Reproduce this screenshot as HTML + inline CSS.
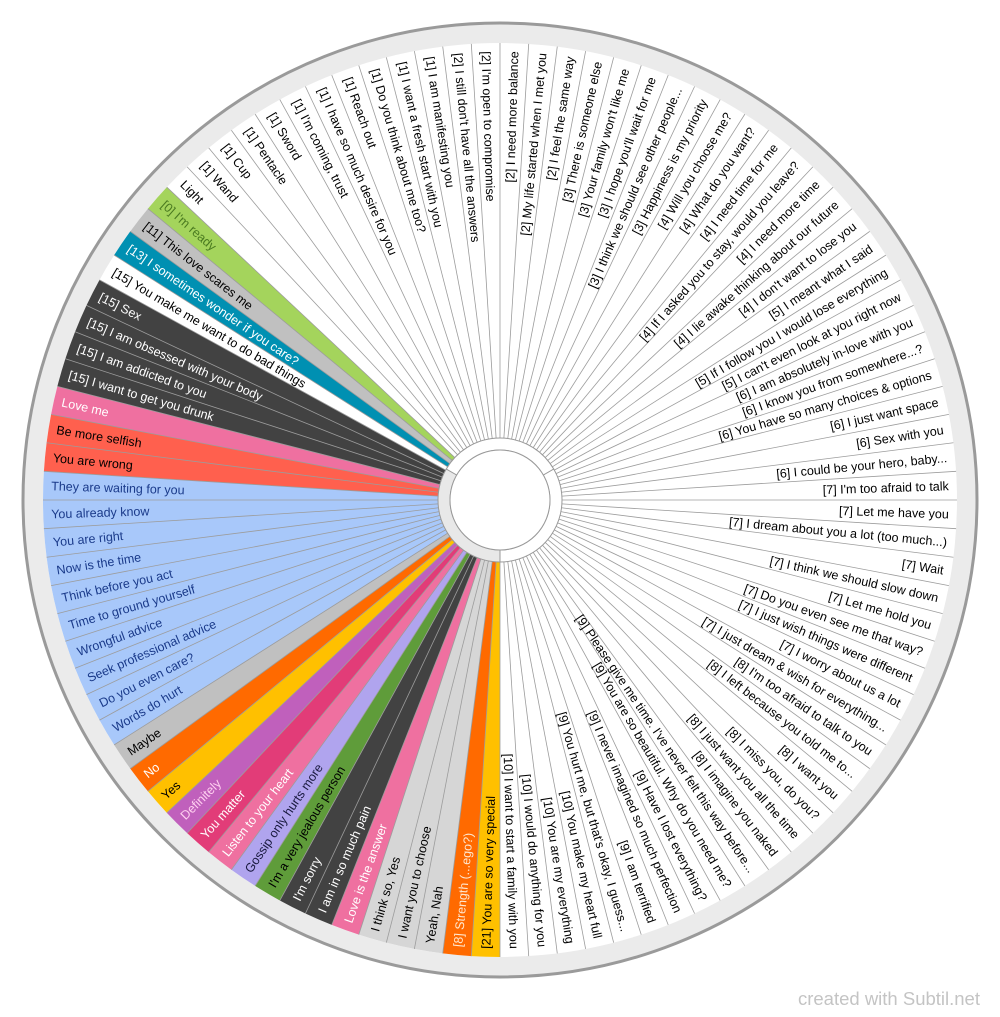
<!DOCTYPE html>
<html><head><meta charset="utf-8"><style>
html,body{margin:0;padding:0;background:#fff;width:1000px;height:1017px;overflow:hidden}
svg{display:block}
text{font-family:"Liberation Sans",Arial,sans-serif;font-size:12.5px}
</style></head><body>
<svg id="s" width="1000" height="1017" viewBox="0 0 1000 1017">
<circle cx="500" cy="501" r="477" fill="#e6e6e6" opacity="0.6"/>
<circle cx="500" cy="500" r="467" fill="none" stroke="#ebebeb" stroke-width="21"/>
<circle cx="500" cy="500" r="477" fill="none" stroke="#9a9a9a" stroke-width="3"/>
<circle cx="500" cy="500" r="457" fill="#fff"/>
<g id="g" transform="translate(500,500)"></g>
<text x="980" y="1005" text-anchor="end" style="font-size:18.5px" fill="#c4c4c4">created with Subtil.net</text>
</svg>
<script>
var W='#fff',B='#000';
var right=["[2] I need more balance","[2] My life started when I met you","[2] I feel the same way","[3] There is someone else","[3] Your family won't like me","[3] I hope you'll wait for me","[3] I think we should see other people...","[3] Happiness is my priority","[4] Will you choose me?","[4] What do you want?","[4] I need time for me","[4] If I asked you to stay, would you leave?","[4] I need more time","[4] I lie awake thinking about our future","[4] I don't want to lose you","[5] I meant what I said","[5] If I follow you I would lose everything","[5] I can't even look at you right now","[6] I am absolutely in-love with you","[6] I know you from somewhere...?","[6] You have so many choices & options","[6] I just want space","[6] Sex with you","[6] I could be your hero, baby...","[7] I'm too afraid to talk","[7] Let me have you","[7] I dream about you a lot (too much...)","[7] Wait","[7] I think we should slow down","[7] Let me hold you","[7] Do you even see me that way?","[7] I just wish things were different","[7] I worry about us a lot","[7] I just dream & wish for everything...","[8] I'm too afraid to talk to you","[8] I left because you told me to...","[8] I want you","[8] I miss you, do you?","[8] I just want you all the time","[8] I imagine you naked","[9] Please give me time. I've never felt this way before...","[9] You are so beautiful. Why do you need me?","[9] Have I lost everything?","[9] I never imagined so much perfection","[9] I am terrified","[9] You hurt me, but that's okay, I guess...","[10] You make my heart full","[10] You are my everything","[10] I would do anything for you","[10] I want to start a family with you"];
var DG='#424242',BL='#a8c8fa',BT='#1a3a8a',PK='#ef70a0',LG='#d6d6d6';
var left=[["[21] You are so very special","#ffc000",B],["[8] Strength (...ego?)","#ff6a00","#ffe8d0"],["Yeah, Nah",LG,B],["I want you to choose",LG,B],["I think so, Yes",LG,B],["Love is the answer",PK,W],["I am in so much pain",DG,W],["I'm sorry",DG,W],["I'm a very jealous person","#5f9c3a",B],["Gossip only hurts more","#b0a4ee","#1a1a40"],["Listen to your heart",PK,W],["You matter","#e23c78",W],["Definitely","#c060bc","#ffd0f0"],["Yes","#ffc000",B],["No","#ff6a00",W],["Maybe","#c0c0c0",B],["Words do hurt",BL,BT],["Do you even care?",BL,BT],["Seek professional advice",BL,BT],["Wrongful advice",BL,BT],["Time to ground yourself",BL,BT],["Think before you act",BL,BT],["Now is the time",BL,BT],["You are right",BL,BT],["You already know",BL,BT],["They are waiting for you",BL,BT],["You are wrong","#ff604e",B],["Be more selfish","#ff604e",B],["Love me",PK,W],["[15] I want to get you drunk",DG,W],["[15] I am addicted to you",DG,W],["[15] I am obsessed with your body",DG,W],["[15] Sex",DG,W],["[15] You make me want to do bad things",W,B],["[13] I sometimes wonder if you care?","#0090b2",W],["[11] This love scares me","#c0c0c0",B],["[0] I'm ready","#a4d45c","#4a7a20"],["Light",W,B],["[1] Wand",W,B],["[1] Cup",W,B],["[1] Pentacle",W,B],["[1] Sword",W,B],["[1] I'm coming, trust",W,B],["[1] I have so much desire for you",W,B],["[1] Reach out",W,B],["[1] Do you think about me too?",W,B],["[1] I want a fresh start with you",W,B],["[1] I am manifesting you",W,B],["[2] I still don't have all the answers",W,B],["[2] I'm open to compromise",W,B]];
var g=document.getElementById('g'),NS='http://www.w3.org/2000/svg';
function el(t,a,txt){var e=document.createElementNS(NS,t);for(var k in a)e.setAttribute(k,a[k]);if(txt)e.textContent=txt;g.appendChild(e);return e;}
function pt(r,d){var a=d*Math.PI/180;return [r*Math.sin(a),-r*Math.cos(a)];}
var R0=62,R1=457,S=3.6;
var segs=[];
right.forEach(function(t){segs.push([t,W,B]);});
left.forEach(function(s){segs.push(s);});
segs.forEach(function(s,i){
 var a0=i*S,a1=(i+1)*S;
 if(s[1]!=W){var p=pt(R0,a0),q=pt(R1,a0),u=pt(R1,a1),v=pt(R0,a1);
 el('path',{d:'M'+p+'L'+q+'A'+R1+' '+R1+' 0 0 1 '+u+'L'+v+'A'+R0+' '+R0+' 0 0 0 '+p+'Z',fill:s[1]});}
});
segs.forEach(function(s,i){var a0=i*S,p=pt(R0,a0),q=pt(R1,a0);
 el('line',{x1:p[0],y1:p[1],x2:q[0],y2:q[1],stroke:'#9c9c9c','stroke-width':0.8});});
segs.forEach(function(s,i){var m=(i+0.5)*S;
 if(i<50){el('text',{transform:'rotate('+(m-90)+')',x:449,y:4.3,'text-anchor':'end',fill:s[2]},s[0]);}
 else{el('text',{transform:'rotate('+(m+90)+')',x:-449,y:4.3,'text-anchor':'start',fill:s[2]},s[0]);}
});
function arc(r1,r2,a0,a1,f){var p=pt(r1,a0),q=pt(r2,a0),u=pt(r2,a1),v=pt(r1,a1);var lg=(a1-a0)>180?1:0;
 el('path',{d:'M'+p+'L'+q+'A'+r2+' '+r2+' 0 '+lg+' 1 '+u+'L'+v+'A'+r1+' '+r1+' 0 '+lg+' 0 '+p+'Z',fill:f,stroke:'#9a9a9a','stroke-width':1});}
arc(50,62,60,180,'#fff');arc(50,62,180,300,'#e8e8e8');arc(50,62,300,420,'#fff');
el('circle',{cx:0,cy:0,r:50,fill:'#fff',stroke:'#9a9a9a','stroke-width':1});
</script>
</body></html>
